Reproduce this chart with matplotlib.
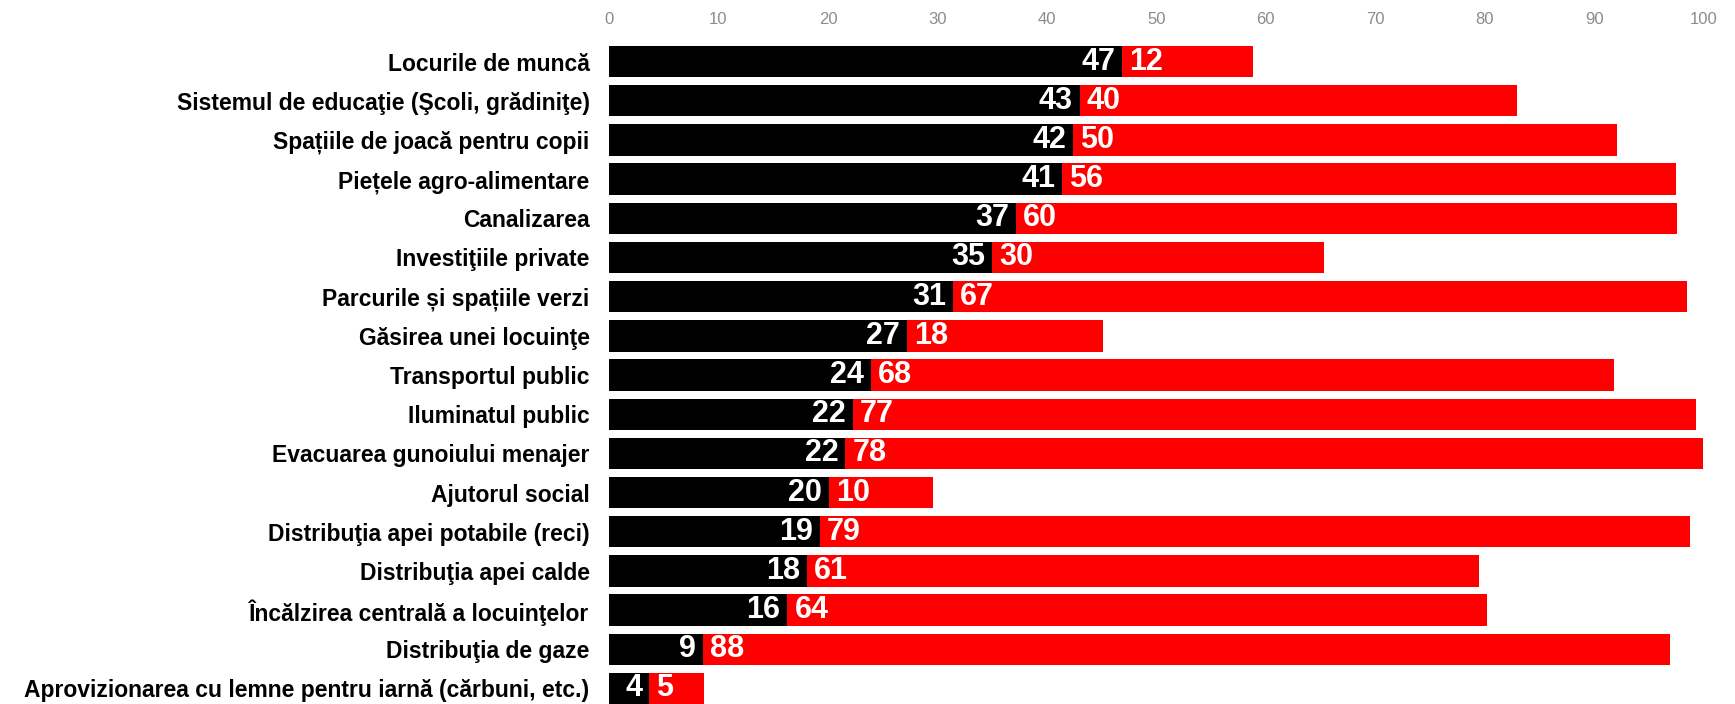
import matplotlib.pyplot as plt

plt.rcParams['font.family'] = ['Liberation Sans', 'DejaVu Sans']

categorii = [
    'Locurile de muncă',
    'Sistemul de educaţie (Şcoli, grădiniţe)',
    'Spațiile de joacă pentru copii',
    'Piețele agro-alimentare',
    'Canalizarea',
    'Investiţiile private',
    'Parcurile și spațiile verzi',
    'Găsirea unei locuinţe',
    'Transportul public',
    'Iluminatul public',
    'Evacuarea gunoiului menajer',
    'Ajutorul social',
    'Distribuţia apei potabile (reci)',
    'Distribuţia apei calde',
    'Încălzirea centrală a locuinţelor',
    'Distribuţia de gaze',
    'Aprovizionarea cu lemne pentru iarnă (cărbuni, etc.)',
]
negru = [46.9, 43.0, 42.4, 41.4, 37.2, 35.0, 31.4, 27.2, 23.9, 22.3, 21.6, 20.1, 19.3, 18.1, 16.3, 8.6, 3.7]
rosu = [11.9, 39.9, 49.7, 56.1, 60.4, 30.3, 67.1, 17.9, 67.9, 77.0, 78.3, 9.5, 79.4, 61.4, 63.9, 88.3, 5.0]
x_ticks = [0, 10, 20, 30, 40, 50, 60, 70, 80, 90, 100]

fig = plt.figure(figsize=(17.35, 7.04), dpi=100)
ax = fig.add_axes([0.351, -0.0057, 0.631, 0.946])

y = list(range(len(categorii)))
ax.barh(y, negru, height=0.8, color='#000000')
ax.barh(y, rosu, left=negru, height=0.8, color='#ff0000')

# etichete cu valorile
for i in y:
    ax.annotate(f'{negru[i]:.0f}', (negru[i], i), xytext=(-5, 0), textcoords='offset points',
                ha='right', va='center', color='white', fontsize=22, fontweight='bold')
    ax.annotate(f'{rosu[i]:.0f}', (negru[i], i), xytext=(5, 0), textcoords='offset points',
                ha='left', va='center', color='white', fontsize=22, fontweight='bold')

ax.set_ylim(len(categorii) - 0.5, -0.5)
ax.set_xlim(0, 100)
ax.set_yticks(y)
ax.set_yticklabels(categorii, fontsize=16.5, fontweight='bold')
ax.set_xticks(x_ticks)
ax.xaxis.tick_top()
ax.tick_params(axis='x', length=0, pad=11)
for lbl in ax.get_xticklabels():
    lbl.set_family(['Liberation Sans Narrow', 'Liberation Sans'])
    lbl.set_fontsize(12)
    lbl.set_color('#8c8c8c')
ax.tick_params(axis='y', length=0, pad=14)
for s in ax.spines.values():
    s.set_visible(False)

plt.savefig('out.png', dpi=100)
